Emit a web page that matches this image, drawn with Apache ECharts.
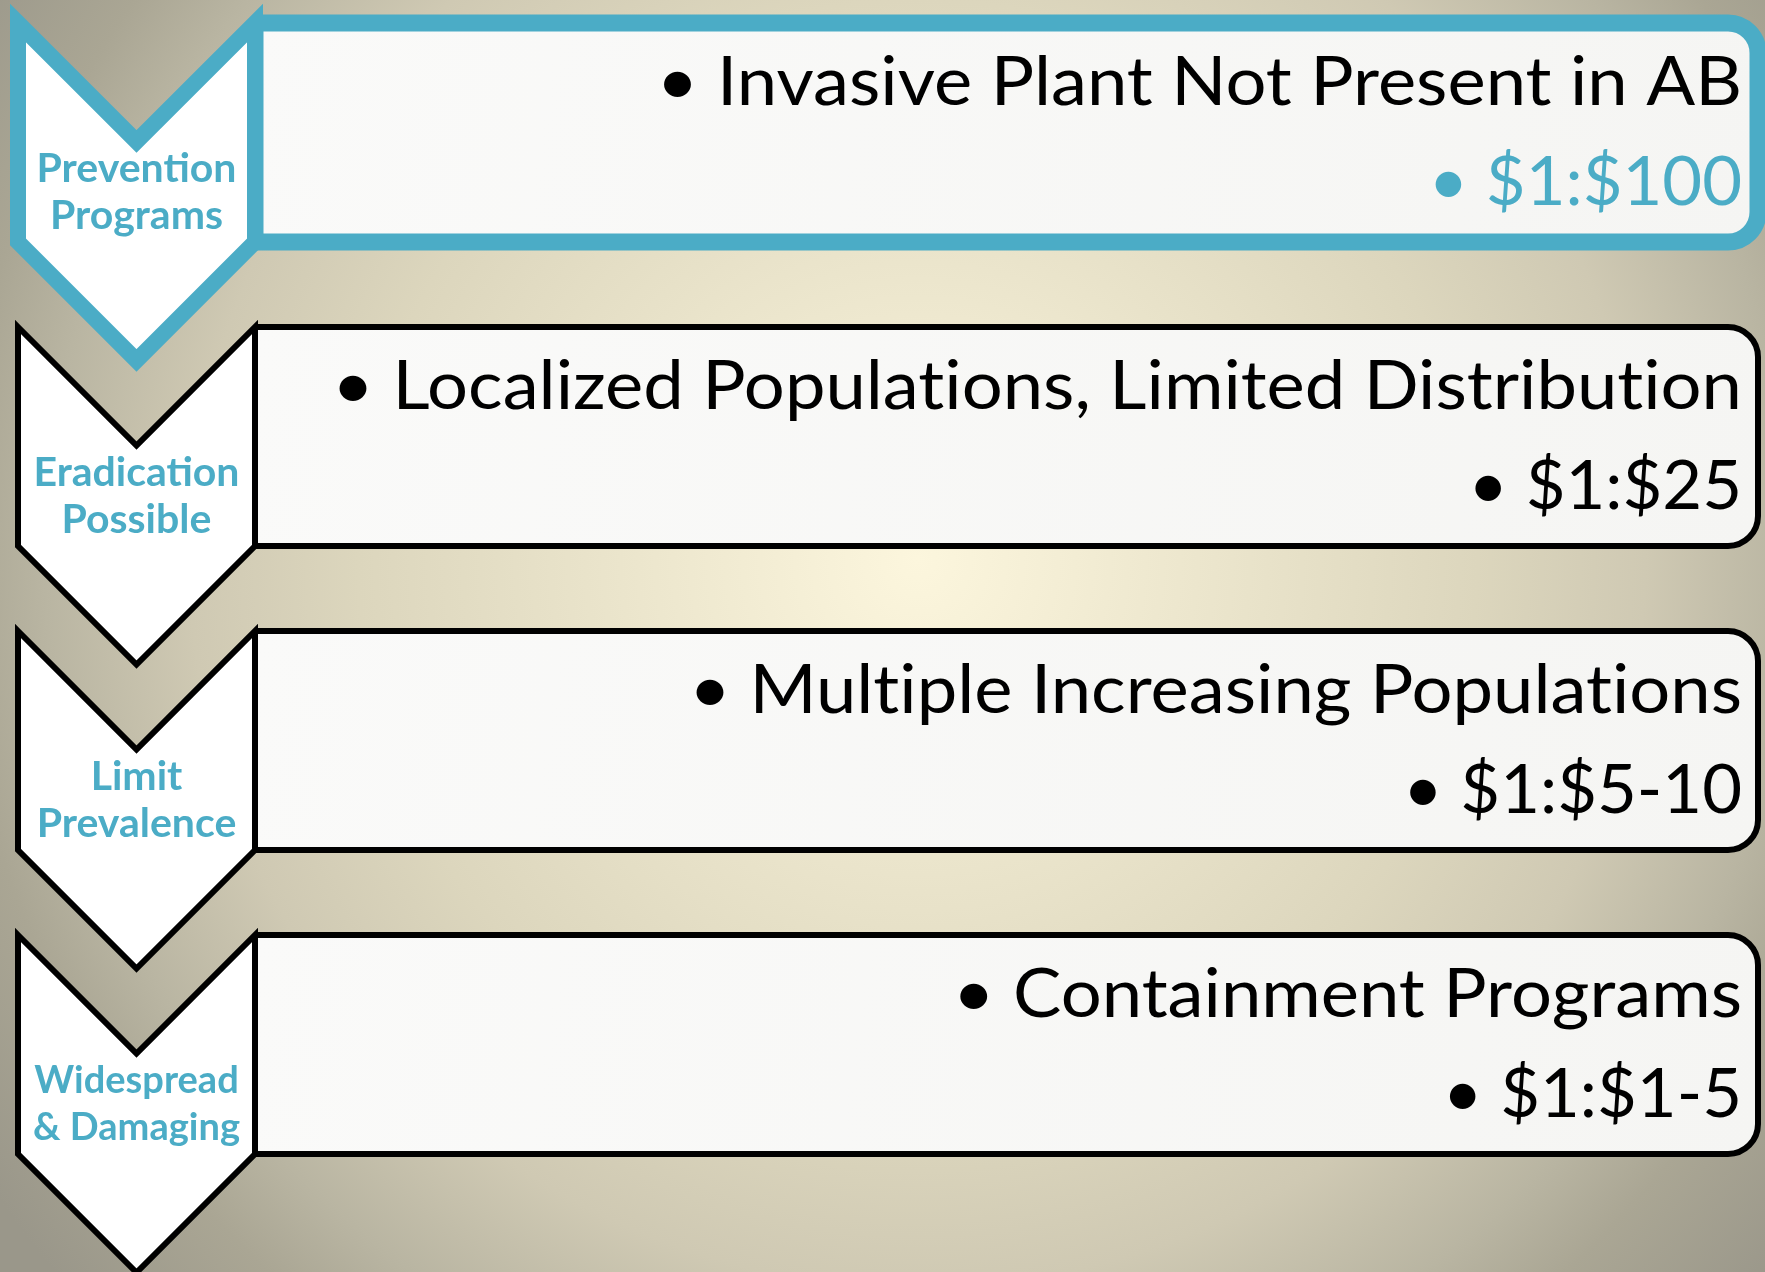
<!DOCTYPE html>
<html>
<head>
<meta charset="utf-8">
<script src="https://cdn.jsdelivr.net/npm/echarts@6/dist/echarts.min.js"></script>
<style>html,body{margin:0;padding:0;background:#fff}#chart{width:1765px;height:1272px}</style>
</head>
<body>
<div id="chart"></div>
<script>
// ---- data ----
const stages = ['Prevention\nPrograms', 'Eradication\nPossible', 'Limit\nPrevalence', 'Widespread\n& Damaging'];
const conditions = ['Invasive Plant Not Present in AB', 'Localized Populations, Limited Distribution', 'Multiple Increasing Populations', 'Containment Programs'];
const returnRatios = ['$1:$100', '$1:$25', '$1:$5-10', '$1:$1-5'];
const activeStage = 0;

// ---- styling ----
const BLUE = '#4bacc6';
const BODY_FONT = 'Lato, "Open Sans", sans-serif';
const LABEL_FONT = 'Lato, "Open Sans", sans-serif';

// keep "ti" from forming a ligature (the original face has none)
function noLig(s) { return s.replace(/t(?=i)/g, 't\u200C'); }

const measureCtx = document.createElement('canvas').getContext('2d');
function fitSize(text, base, maxW, weight, family) {
  let w = 0;
  measureCtx.font = weight + ' ' + base + 'px ' + family;
  text.split('\n').forEach(function (line) {
    w = Math.max(w, measureCtx.measureText(line).width);
  });
  return w > maxW ? base * maxW / w : base;
}

const chart = echarts.init(document.getElementById('chart'), null, {renderer: 'canvas'});

function renderItem(params, api) {
  const i = api.value(1);
  const c = api.coord([0, i]);
  const band = api.size([0, 1])[1];
  const cs = params.coordSys;
  const top = c[1] - band / 2;
  const L = cs.x, R = cs.x + cs.width;
  const CW = 237, half = CW / 2, H = 219;
  const act = i === activeStage;
  const stroke = act ? BLUE : '#000';
  const lw = act ? 16 : 6;
  const labelSize = fitSize(stages[i], 41, 207, 'bold', LABEL_FONT);
  return {
    type: 'group',
    children: [
      {
        type: 'rect',
        shape: {x: L + CW, y: top, width: R - (L + CW), height: H, r: [0, 30, 30, 0]},
        style: {
          fill: {type: 'linear', x: 0, y: 0, x2: 1, y2: 1, colorStops: [{offset: 0, color: '#fafaf9'}, {offset: 1, color: '#f5f5f3'}]},
          stroke: stroke, lineWidth: act ? 17 : 6
        }
      },
      {
        type: 'polygon',
        shape: {points: [[L, top], [L + half, top + half], [L + CW, top], [L + CW, top + H], [L + half, top + H + half], [L, top + H]]},
        style: {fill: '#ffffff', stroke: stroke, lineWidth: lw, lineJoin: 'miter', miterLimit: 10}
      },
      {
        type: 'text',
        style: {
          text: stages[i], x: L + half, y: top + 169, align: 'center', verticalAlign: 'middle',
          fill: BLUE, fontFamily: LABEL_FONT, fontWeight: 'bold', fontSize: labelSize, lineHeight: 47
        }
      },
      {
        type: 'text',
        x: R - 16, y: top + 60, scaleX: 1.08,
        style: {
          text: noLig('\u2022 ' + conditions[i]), x: 0, y: 0, align: 'right', verticalAlign: 'middle',
          fill: '#000', fontFamily: BODY_FONT, fontSize: 67
        }
      },
      {
        type: 'text',
        x: R - 16, y: top + 160, scaleX: 1.025,
        style: {
          text: '\u2022 ' + returnRatios[i], x: 0, y: 0, align: 'right', verticalAlign: 'middle',
          fill: act ? BLUE : '#000', fontFamily: BODY_FONT, fontSize: 67
        }
      }
    ]
  };
}

chart.setOption({
  backgroundColor: {
    type: 'radial', x: 0.52, y: 0.44, r: 0.88,
    colorStops: [
      {offset: 0, color: '#fcf6dd'},
      {offset: 0.5, color: '#dcd6bd'},
      {offset: 0.65, color: '#cfc9b3'},
      {offset: 0.78, color: '#b9b5a2'},
      {offset: 0.86, color: '#aaa694'},
      {offset: 1, color: '#9a978a'}
    ]
  },
  animation: false,
  grid: {left: 18, right: 7, top: 23, bottom: 33},
  xAxis: {type: 'value', min: 0, max: 1, show: false},
  yAxis: {type: 'category', data: stages, inverse: true, show: false},
  series: [{
    type: 'custom',
    coordinateSystem: 'cartesian2d',
    renderItem: renderItem,
    clip: false,
    data: stages.map(function (s, i) { return [0, i]; })
  }]
});
</script>
</body>
</html>
